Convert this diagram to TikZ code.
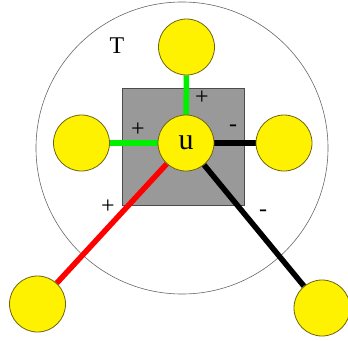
\documentclass[tikz,border=0pt]{standalone}
\usepackage{fontspec}
\setmainfont{Liberation Serif}
\pgfdeclarelayer{back}
\pgfdeclarelayer{mid}
\pgfsetlayers{back,mid,main}
\definecolor{brightgreen}{RGB}{0,240,0}
\definecolor{olive}{RGB}{110,100,20}
\begin{document}
\begin{tikzpicture}[x=1pt,y=-1pt,
  ynode/.style={circle,draw=olive,fill=yellow,line width=0.8pt,minimum size=56pt,inner sep=0pt},
  edge/.style={line width=5.5pt},
  sign/.style={font=\fontsize{24}{24}\selectfont,inner sep=0pt}]
\useasboundingbox (0,0) rectangle (348,340);
\node[ynode,font=\fontsize{30}{30}\selectfont] (u) at (186,143) {u};
\node[ynode] (top) at (186.5,47) {};
\node[ynode] (left) at (81.5,143) {};
\node[ynode] (right) at (284,143) {};
\node[ynode] (bl) at (37.5,304) {};
\node[ynode] (br) at (322,308) {};
\begin{pgfonlayer}{back}
\node[circle,draw=black!60,line width=0.6pt,minimum size=292pt,inner sep=0pt] (T) at (182,148) {};
\node[draw=black!70,fill=black!40,line width=0.8pt,minimum width=122pt,minimum height=117pt,inner sep=0pt] (sq) at (183,146.5) {};
\end{pgfonlayer}
\begin{pgfonlayer}{mid}
\draw[edge,brightgreen] (u.center) -- (top);
\draw[edge,brightgreen] (u.center) -- (left);
\draw[edge,line width=6.5pt,black] (u.center) -- (right);
\draw[edge,red] (u) -- (bl);
\draw[edge,black] (u) -- (br);
\end{pgfonlayer}
\node[font=\fontsize{24}{24}\selectfont,inner sep=0pt] (Tl) at (117,46) {T};
\node[sign] (p1) at (202,98) {+};
\node[sign] (p2) at (138,130) {+};
\node[sign] (m1) at (233,128) {-};
\node[sign] (p3) at (108,207) {+};
\node[sign] (m2) at (263,213) {-};
\end{tikzpicture}
\end{document}
